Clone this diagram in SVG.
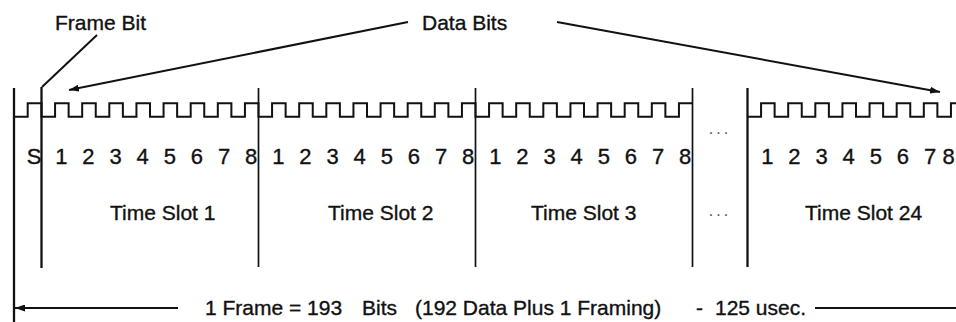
<svg xmlns="http://www.w3.org/2000/svg" width="956" height="322" viewBox="0 0 956 322">
  <defs>
    <style>
      .wave { fill: none; stroke: #111; stroke-width: 2; stroke-linejoin: miter; }
      .bar { stroke: #111; stroke-width: 1.7; fill: none; }
      .bar-thick { stroke: #111; stroke-width: 2.3; fill: none; }
      .lead { stroke: #111; stroke-width: 2; fill: none; }
      .lbl { font-family: "Liberation Sans", Arial, sans-serif; font-size: 21px; fill: #111; stroke: #111; stroke-width: 0.35px; }
      .bit { font-family: "Liberation Sans", Arial, sans-serif; font-size: 22px; fill: #111; stroke: #111; stroke-width: 0.35px; text-anchor: middle; }
      .dots { font-family: "Liberation Sans", Arial, sans-serif; font-size: 16px; fill: #555; text-anchor: middle; letter-spacing: 3px; }
    </style>
    <marker id="arrow" viewBox="0 0 10 7" refX="10" refY="3.5" markerWidth="10" markerHeight="7" markerUnits="userSpaceOnUse" orient="auto">
      <path d="M0,0 L10,3.5 L0,7 z" fill="#111"/>
    </marker>
  </defs>
  <rect width="956" height="322" fill="#fff"/>

  <!-- bit stream: framing bit plus slots 1-3 -->
  <g id="waveform-main">
    <path class="wave" d="M14,116.7 H27.7 V103.3 H41.5 V116.7
      h13.5625v-13.4h13.5625v13.4 h13.5625v-13.4h13.5625v13.4 h13.5625v-13.4h13.5625v13.4 h13.5625v-13.4h13.5625v13.4
      h13.5625v-13.4h13.5625v13.4 h13.5625v-13.4h13.5625v13.4 h13.5625v-13.4h13.5625v13.4 h13.5625v-13.4h13.5625v13.4
      h13.5625v-13.4h13.5625v13.4 h13.5625v-13.4h13.5625v13.4 h13.5625v-13.4h13.5625v13.4 h13.5625v-13.4h13.5625v13.4
      h13.5625v-13.4h13.5625v13.4 h13.5625v-13.4h13.5625v13.4 h13.5625v-13.4h13.5625v13.4 h13.5625v-13.4h13.5625v13.4
      h13.5625v-13.4h13.5625v13.4 h13.5625v-13.4h13.5625v13.4 h13.5625v-13.4h13.5625v13.4 h13.5625v-13.4h13.5625v13.4
      h13.5625v-13.4h13.5625v13.4 h13.5625v-13.4h13.5625v13.4 h13.5625v-13.4h13.5625v13.4 h13.5625v-13.4h13.5625"/>
  </g>

  <!-- bit stream: slot 24 -->
  <g id="waveform-slot24">
    <path class="wave" d="M747.5,116.7
      h13.5625v-13.4h13.5625v13.4 h13.5625v-13.4h13.5625v13.4 h13.5625v-13.4h13.5625v13.4 h13.5625v-13.4h13.5625v13.4
      h13.5625v-13.4h13.5625v13.4 h13.5625v-13.4h13.5625v13.4 h13.5625v-13.4h13.5625v13.4 h13.5625v-13.4h13.5625"/>
  </g>

  <!-- frame and slot boundaries -->
  <g id="boundaries">
    <line class="bar-thick" x1="14" y1="88" x2="14" y2="322"/>
    <line class="bar-thick" x1="41.5" y1="87" x2="41.5" y2="268"/>
    <line class="bar" x1="258.5" y1="88" x2="258.5" y2="267"/>
    <line class="bar" x1="475.5" y1="88" x2="475.5" y2="267"/>
    <line class="bar" x1="692.5" y1="88" x2="692.5" y2="267"/>
    <line class="bar-thick" x1="747.5" y1="88" x2="747.5" y2="267"/>
  </g>

  <!-- bit numbers -->
  <g id="bit-numbers">
    <text class="bit" x="34" y="164">S</text>
    <text class="bit" x="61.3" y="164">1</text>
    <text class="bit" x="88.4" y="164">2</text>
    <text class="bit" x="115.5" y="164">3</text>
    <text class="bit" x="142.7" y="164">4</text>
    <text class="bit" x="169.8" y="164">5</text>
    <text class="bit" x="196.9" y="164">6</text>
    <text class="bit" x="224" y="164">7</text>
    <text class="bit" x="251.2" y="164">8</text>

    <text class="bit" x="278.3" y="164">1</text>
    <text class="bit" x="305.4" y="164">2</text>
    <text class="bit" x="332.5" y="164">3</text>
    <text class="bit" x="359.7" y="164">4</text>
    <text class="bit" x="386.8" y="164">5</text>
    <text class="bit" x="413.9" y="164">6</text>
    <text class="bit" x="441" y="164">7</text>
    <text class="bit" x="468.2" y="164">8</text>

    <text class="bit" x="495.3" y="164">1</text>
    <text class="bit" x="522.4" y="164">2</text>
    <text class="bit" x="549.5" y="164">3</text>
    <text class="bit" x="576.7" y="164">4</text>
    <text class="bit" x="603.8" y="164">5</text>
    <text class="bit" x="630.9" y="164">6</text>
    <text class="bit" x="658" y="164">7</text>
    <text class="bit" x="685.2" y="164">8</text>

    <text class="bit" x="767.3" y="164">1</text>
    <text class="bit" x="794.4" y="164">2</text>
    <text class="bit" x="821.5" y="164">3</text>
    <text class="bit" x="848.7" y="164">4</text>
    <text class="bit" x="875.8" y="164">5</text>
    <text class="bit" x="902.9" y="164">6</text>
    <text class="bit" x="930" y="164">7</text>
    <text class="bit" x="948.5" y="164">8</text>
  </g>

  <!-- gap markers between slot 3 and slot 24 -->
  <g id="ellipsis">
    <text class="dots" x="720" y="134">...</text>
    <text class="dots" x="720" y="216">...</text>
  </g>

  <!-- slot names -->
  <g id="slot-labels">
    <text class="lbl" x="110" y="220">Time Slot 1</text>
    <text class="lbl" x="328" y="220">Time Slot 2</text>
    <text class="lbl" x="531" y="220">Time Slot 3</text>
    <text class="lbl" x="805" y="220">Time Slot 24</text>
  </g>

  <!-- callouts -->
  <g id="callouts">
    <text class="lbl" x="55" y="30">Frame Bit</text>
    <text class="lbl" x="422" y="30">Data Bits</text>
  </g>

  <!-- frame length -->
  <g id="frame-length">
    <text class="lbl" x="205" y="315">1 Frame = 193</text>
    <text class="lbl" x="362" y="315">Bits</text>
    <text class="lbl" x="415" y="315">(192 Data Plus 1 Framing)</text>
    <text class="lbl" x="696" y="315">-</text>
    <text class="lbl" x="715" y="315">125 usec.</text>
  </g>

  <g id="connectors">
    <line class="lead" x1="97" y1="35" x2="42" y2="87"/>
    <line class="lead" x1="408" y1="22" x2="69" y2="90" marker-end="url(#arrow)"/>
    <line class="lead" x1="557" y1="22" x2="940" y2="92" marker-end="url(#arrow)"/>
    <line class="lead" x1="178" y1="308" x2="15" y2="308" marker-end="url(#arrow)"/>
    <line class="lead" x1="815" y1="308" x2="956" y2="308"/>
  </g>
</svg>
